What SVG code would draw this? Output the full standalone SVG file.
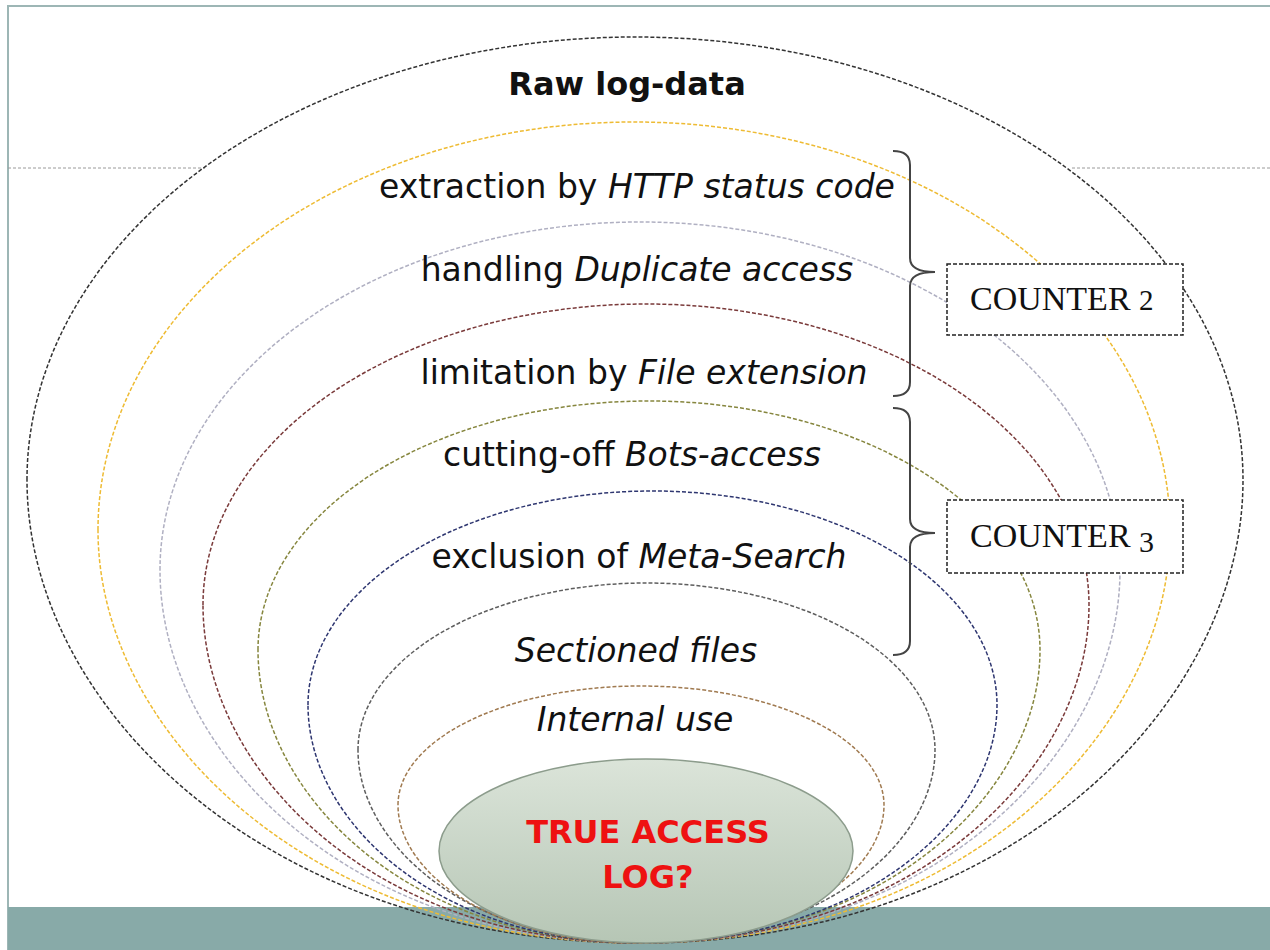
<svg xmlns="http://www.w3.org/2000/svg" width="1270" height="950" viewBox="0 0 1270 950">
<style>
.ring{fill:none;stroke-width:1.5;stroke-dasharray:4 2}
.lbl{font-family:"DejaVu Sans",Verdana,sans-serif;font-size:33px;fill:#111;text-anchor:middle}
.it{font-style:italic}
.bold{font-family:"DejaVu Sans",Verdana,sans-serif;font-size:32px;font-weight:bold;text-anchor:middle}
.brace{fill:none;stroke:#444;stroke-width:2}
.box{fill:#fff;stroke:#222;stroke-width:1.5;stroke-dasharray:4 2}
.ctr{font-family:"Liberation Serif","Times New Roman",serif;font-size:34px;fill:#111}
</style>
<defs>
<linearGradient id="g" x1="0" y1="0" x2="0" y2="1">
<stop offset="0" stop-color="#dbe4d9"/>
<stop offset="1" stop-color="#b6c6b5"/>
</linearGradient>
</defs>
<rect x="0" y="0" width="1270" height="950" fill="#fff"/>
<path d="M8,950 V6 H1270" fill="none" stroke="#9db6b5" stroke-width="2"/>
<rect x="8" y="907" width="1262" height="43" fill="#88aaa8"/>
<g id="guides" stroke="#9a9a9a" stroke-width="1" stroke-dasharray="3 2">
<line x1="8" y1="168" x2="205" y2="168"/>
<line x1="1072" y1="168" x2="1270" y2="168"/>
</g>
<g id="raw">
<path class="ring" stroke="#333" d="M27,480 A608,443 0 0 1 1243,480 C1243,711 1002,943 640,943 C272,943 27,711 27,480 Z"/>
<text class="bold" x="627" y="95" fill="#111">Raw log-data</text>
</g>
<g id="http">
<path class="ring" stroke="#eebb33" d="M98,530 A536,408 0 0 1 1170,530 C1170,736 958,943 640,943 C315,943 98,736 98,530 Z"/>
<text class="lbl" x="637" y="198">extraction by <tspan class="it">HTTP status code</tspan></text>
</g>
<g id="duplicate">
<path class="ring" stroke="#b0b0c2" d="M160,570 A480,348 0 0 1 1120,570 C1120,756 928,943 640,943 C352,943 160,756 160,570 Z"/>
<text class="lbl" x="637" y="281">handling <tspan class="it">Duplicate access</tspan></text>
</g>
<g id="extension">
<path class="ring" stroke="#7a3a3a" d="M203,605 A443,301 0 0 1 1089,605 C1089,774 909,943 640,943 C378,943 203,774 203,605 Z"/>
<text class="lbl" x="644" y="384">limitation by <tspan class="it">File extension</tspan></text>
</g>
<g id="bots">
<path class="ring" stroke="#86863e" d="M258,650 A391,249 0 0 1 1040,650 C1040,796 880,943 640,943 C411,943 258,796 258,650 Z"/>
<text class="lbl" x="632" y="466">cutting-off <tspan class="it">Bots-access</tspan></text>
</g>
<g id="meta">
<path class="ring" stroke="#2e3670" d="M308,705 A344.5,214 0 0 1 997,705 C997,824 854,943 640,943 C441,943 308,824 308,705 Z"/>
<text class="lbl" x="639" y="568">exclusion of <tspan class="it">Meta-Search</tspan></text>
</g>
<g id="sectioned">
<path class="ring" stroke="#5e5e5e" d="M358,750 A288.5,167 0 0 1 935,750 C935,846 817,943 640,943 C471,943 358,846 358,750 Z"/>
<text class="lbl it" x="636" y="662">Sectioned files</text>
</g>
<g id="internal">
<path class="ring" stroke="#a07a50" d="M398,805 A243,119 0 0 1 884,805 C884,874 786,943 640,943 C495,943 398,874 398,805 Z"/>
<text class="lbl it" x="635" y="731">Internal use</text>
</g>
<g id="true">
<ellipse cx="646" cy="851" rx="207" ry="92" fill="url(#g)" stroke="#8c9c8c" stroke-width="1.5"/>
<text class="bold" x="648" y="843" fill="#ee1111">TRUE ACCESS</text>
<text class="bold" x="648" y="888" fill="#ee1111">LOG?</text>
</g>
<g id="connectors">
<path class="brace" d="M893,151 Q910,151 910,165 L910,258 Q910,272 935,272 Q910,272 910,286 L910,382 Q910,396 893,396"/>
<path class="brace" d="M893,408 Q910,408 910,422 L910,519 Q910,533 935,533 Q910,533 910,547 L910,641 Q910,655 893,655"/>
</g>
<g id="counter2">
<rect class="box" x="947" y="264" width="236" height="71"/>
<text class="ctr" x="970" y="310">COUNTER <tspan font-size="29">2</tspan></text>
</g>
<g id="counter3">
<rect class="box" x="947" y="500" width="236" height="73"/>
<text class="ctr" x="970" y="547">COUNTER <tspan font-size="30" dy="5">3</tspan></text>
</g>
</svg>
